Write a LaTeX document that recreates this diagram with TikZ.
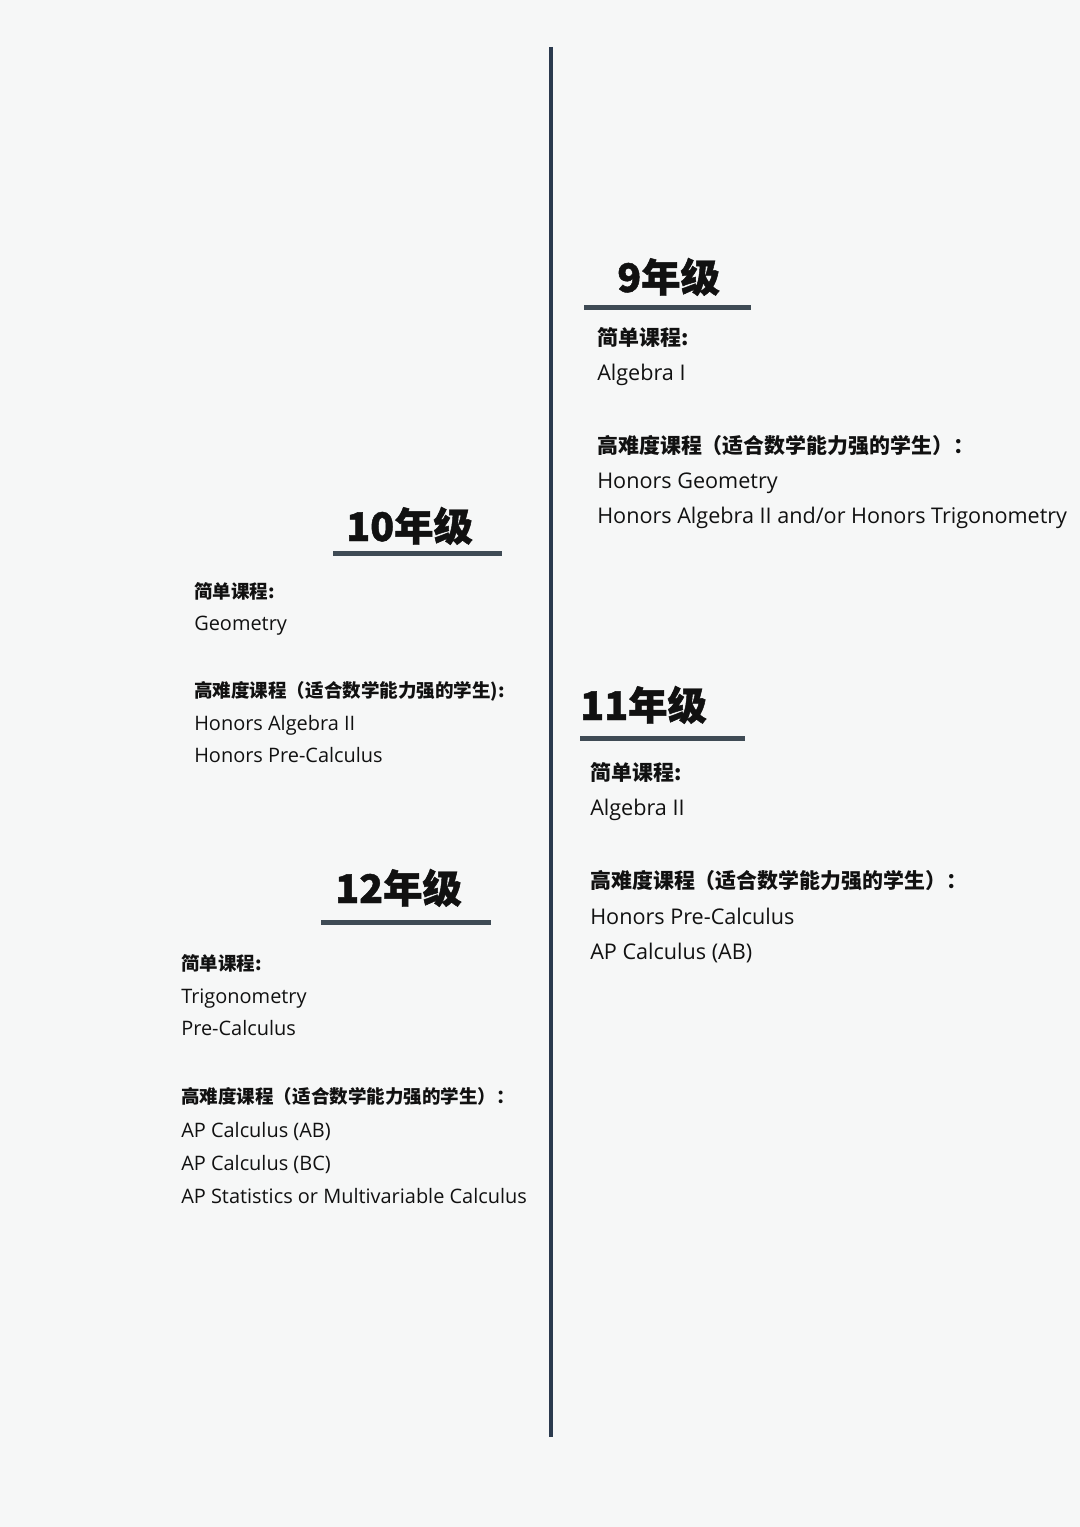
\documentclass[tikz,border=0pt]{standalone}
\usepackage{fontspec}
\setmainfont{Open Sans}
\newfontfamily\cjk{Noto Sans CJK SC}
\newfontfamily\cjkhead{Noto Sans CJK SC}[BoldFeatures={FakeBold=1.2}]
\definecolor{bg}{HTML}{F6F7F7}
\definecolor{axis}{HTML}{2B3A4E}
\definecolor{uline}{HTML}{3F4B55}
\definecolor{ink}{HTML}{111111}
\begin{document}
\begin{tikzpicture}[x=0.75pt,y=-0.75pt,
  every node/.style={inner sep=0pt,anchor=base west,text=ink},
  headA/.style={font=\cjkhead\bfseries\fontsize{29.5}{34}\selectfont},
  labA/.style={font=\cjk\bfseries\fontsize{15.7}{18}\selectfont},
  itemA/.style={font=\fontsize{16.2}{19}\selectfont},
  labB/.style={font=\cjk\bfseries\fontsize{13.9}{16}\selectfont},
  itemB/.style={font=\fontsize{14.95}{17}\selectfont},
  bar/.style={draw=uline,line width=3.75pt},
  axisline/.style={draw=axis,line width=3pt}]
\useasboundingbox (0,0) rectangle (1080,1527);
\fill[bg] (0,0) rectangle (1080,1527);
% timeline axis
\coordinate (axTop) at (551,47);
\coordinate (axBot) at (551,1437);
\draw[axisline] (axTop) -- (axBot);
% grade 9
\node[headA] (g9) at (617,292) {9年级};
\coordinate (u9a) at (584,307); \coordinate (u9b) at (751,307);
\draw[bar] (u9a) -- (u9b);
\node[labA] (g9s) at (597,345) {简单课程:};
\node[itemA] (g9s1) at (597,380) {Algebra I};
\node[labA] (g9h) at (597,453) {高难度课程（适合数学能力强的学生）：};
\node[itemA] (g9h1) at (597,488) {Honors Geometry};
\node[itemA] (g9h2) at (597,523) {Honors Algebra II and/or Honors Trigonometry};
% grade 10
\node[headA] (g10) at (346,541) {10年级};
\coordinate (u10a) at (333,553); \coordinate (u10b) at (502,553);
\draw[bar] (u10a) -- (u10b);
\node[labB] (g10s) at (194,598) {简单课程:};
\node[itemB] (g10s1) at (194,630) {Geometry};
\node[labB] (g10h) at (194,697) {高难度课程（适合数学能力强的学生):};
\node[itemB] (g10h1) at (194,730) {Honors Algebra II};
\node[itemB] (g10h2) at (194,762) {Honors Pre-Calculus};
% grade 11
\node[headA] (g11) at (580,720) {11年级};
\coordinate (u11a) at (580,738); \coordinate (u11b) at (745,738);
\draw[bar] (u11a) -- (u11b);
\node[labA] (g11s) at (590,780) {简单课程:};
\node[itemA] (g11s1) at (590,815) {Algebra II};
\node[labA] (g11h) at (590,888) {高难度课程（适合数学能力强的学生）：};
\node[itemA] (g11h1) at (590,924) {Honors Pre-Calculus};
\node[itemA] (g11h2) at (590,959) {AP Calculus (AB)};
% grade 12
\node[headA] (g12) at (335,903) {12年级};
\coordinate (u12a) at (321,922); \coordinate (u12b) at (491,922);
\draw[bar] (u12a) -- (u12b);
\node[labB] (g12s) at (181,970) {简单课程:};
\node[itemB] (g12s1) at (181,1003) {Trigonometry};
\node[itemB] (g12s2) at (181,1035) {Pre-Calculus};
\node[labB] (g12h) at (181,1103) {高难度课程（适合数学能力强的学生）：};
\node[itemB] (g12h1) at (181,1137) {AP Calculus (AB)};
\node[itemB] (g12h2) at (181,1170) {AP Calculus (BC)};
\node[itemB] (g12h3) at (181,1203) {AP Statistics or Multivariable Calculus};
\end{tikzpicture}
\end{document}
